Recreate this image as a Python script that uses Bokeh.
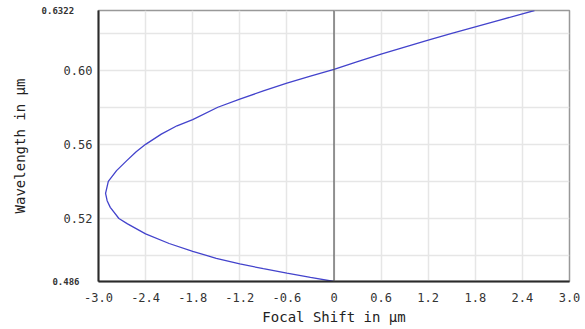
from bokeh.plotting import figure
from bokeh.models import FixedTicker, Span, Range1d, NumeralTickFormatter, LinearAxis
from bokeh.embed import file_html
from bokeh.resources import INLINE

# Focal shift (µm) vs wavelength (µm)
focal_shift = [0.0, -0.3, -0.6, -0.9, -1.2, -1.5, -1.8, -2.1, -2.4, -2.63, -2.74,
               -2.85, -2.89, -2.91, -2.875, -2.77, -2.64, -2.52, -2.40, -2.20,
               -2.00, -1.80, -1.48, -1.2, -0.9, -0.6, -0.3, 0.0, 0.3, 0.6, 0.9,
               1.2, 1.5, 1.8, 2.1, 2.4, 2.554]
wavelength = [0.4860, 0.4882, 0.4905, 0.4929, 0.4955, 0.4985, 0.5023, 0.5065,
              0.5117, 0.5171, 0.5200, 0.5260, 0.5296, 0.5335, 0.5400, 0.5458,
              0.5512, 0.5560, 0.5600, 0.5655, 0.5700, 0.5733, 0.5800, 0.5844,
              0.5888, 0.5930, 0.5968, 0.6005, 0.6046, 0.6087, 0.6125, 0.6162,
              0.6198, 0.6234, 0.6269, 0.6304, 0.6322]

x_ticks = [-3.0, -2.4, -1.8, -1.2, -0.6, 0.0, 0.6, 1.2, 1.8, 2.4, 3.0]
x_tick_labels = ["-3.0", "-2.4", "-1.8", "-1.2", "-0.6", "0", "0.6", "1.2", "1.8", "2.4", "3.0"]
y_major_ticks = [0.52, 0.56, 0.60]
y_minor_ticks = [0.50, 0.54, 0.58, 0.62]
y_limits = [0.486, 0.6322]
y_limit_labels = ["0.486", "0.6322\u00a0"]
x_limits = [-3.0, 3.0]

FONT = "DejaVu Sans Mono"

p = figure(width=585, height=329, output_backend="svg", toolbar_location=None,
           x_range=Range1d(*x_limits), y_range=Range1d(*y_limits),
           min_border_left=98, min_border_right=16, min_border_top=10,
           min_border_bottom=48, frame_width=471, frame_height=271)
p.background_fill_color = "white"
p.border_fill_color = "white"
p.outline_line_color = "#999999"
p.outline_line_width = 1.5

# grids
p.xgrid.ticker = FixedTicker(ticks=x_ticks)
p.ygrid.ticker = FixedTicker(ticks=y_major_ticks, minor_ticks=y_minor_ticks)
for g in (p.xgrid, p.ygrid):
    g.grid_line_color = "#e6e6e6"
    g.grid_line_width = 1.5
p.ygrid.minor_grid_line_color = "#e6e6e6"
p.ygrid.minor_grid_line_width = 1.5

# outer left axis: range-end labels + axis title
yaxis2 = LinearAxis(ticker=FixedTicker(ticks=y_limits),
                    major_label_overrides={v: t for v, t in zip(y_limits, y_limit_labels)})
p.add_layout(yaxis2, "left")

# axes
p.xaxis.ticker = FixedTicker(ticks=x_ticks)
p.xaxis.major_label_overrides = {t: l for t, l in zip(x_ticks, x_tick_labels)}
p.yaxis[0].ticker = FixedTicker(ticks=y_major_ticks, minor_ticks=y_minor_ticks)
p.yaxis[0].formatter = NumeralTickFormatter(format="0.00")
for ax in [p.xaxis[0], p.yaxis[0], yaxis2]:
    ax.axis_line_color = "#2a2a2a"
    ax.axis_line_width = 2
    ax.major_tick_line_color = None
    ax.minor_tick_line_color = None
    ax.major_tick_out = 0
    ax.major_tick_in = 0
    ax.minor_tick_out = 0
    ax.minor_tick_in = 0
    ax.major_label_text_font = FONT
    ax.major_label_text_font_size = "12px"
    ax.major_label_text_color = "#333333"
    ax.axis_label_text_font = FONT
    ax.axis_label_text_font_size = "14px"
    ax.axis_label_text_font_style = "normal"
    ax.axis_label_text_color = "#222222"
yaxis2.axis_line_color = None
yaxis2.major_label_text_font_size = "9px"
yaxis2.major_label_text_font_style = "bold"
yaxis2.major_label_standoff = -19
yaxis2.axis_label = "Wavelength in µm"
yaxis2.axis_label_standoff = 11

p.xaxis.major_label_standoff = 11
p.yaxis[0].major_label_standoff = 6
p.xaxis.axis_label = "Focal Shift in µm"
p.xaxis.axis_label_standoff = 4

# zero line
p.add_layout(Span(location=0, dimension="height", line_color="#555555", line_width=1.2))

# curve
p.line(focal_shift, wavelength, line_color="#4343cc", line_width=1.3)

open("out.html", "w").write(file_html(p, INLINE))
